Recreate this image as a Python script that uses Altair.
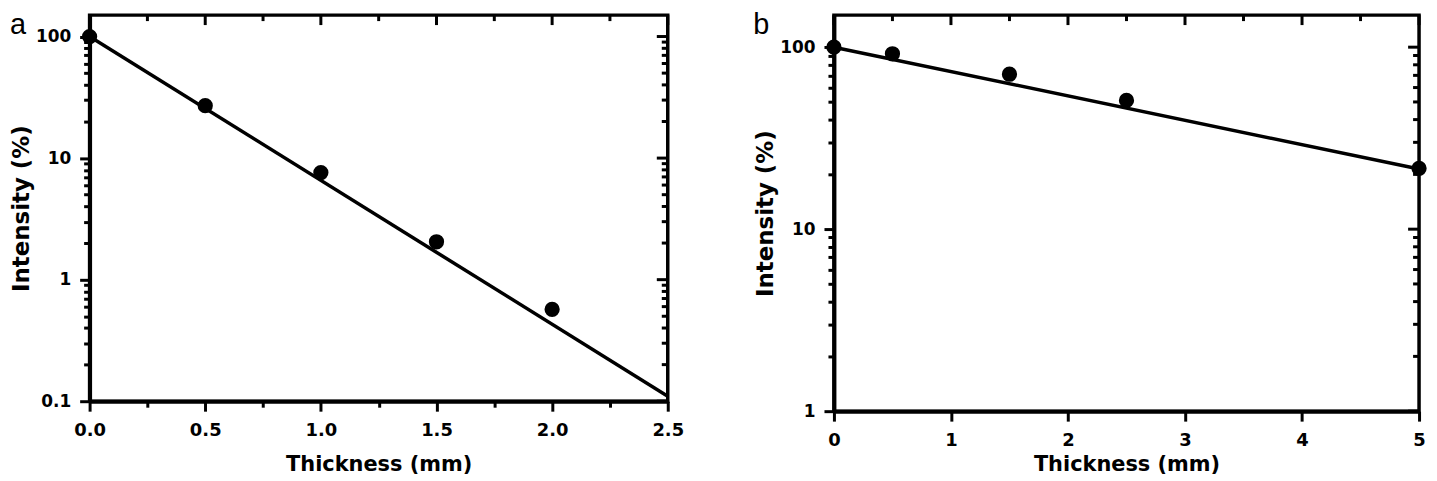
import altair as alt
import pandas as pd

# ---- data ----
a_x = [0.0, 0.5, 1.0, 1.5, 2.0]
a_y = [100, 27, 7.6, 2.05, 0.57]
a_fit_x = [0.0, 2.5]
a_fit_y = [100, 0.11]

b_x = [0.0, 0.5, 1.5, 2.5, 5.0]
b_y = [100, 92, 71, 51, 21.6]
b_fit_x = [0.0, 5.0]
b_fit_y = [100, 21.4]

a_x_major = [0.0, 0.5, 1.0, 1.5, 2.0, 2.5]
a_x_minor = [0.25, 0.75, 1.25, 1.75, 2.25]
a_y_major = [0.1, 1, 10, 100]
a_y_minor = [0.2, 0.3, 0.4, 0.5, 0.6, 0.7, 0.8, 0.9,
             2, 3, 4, 5, 6, 7, 8, 9,
             20, 30, 40, 50, 60, 70, 80, 90]

b_x_major = [0, 1, 2, 3, 4, 5]
b_x_minor = [0.5, 1.5, 2.5, 3.5, 4.5]
b_y_major = [1, 10, 100]
b_y_minor = [2, 3, 4, 5, 6, 7, 8, 9,
             20, 30, 40, 50, 60, 70, 80, 90]

x_title = "Thickness (mm)"
y_title = "Intensity (%)"

FONT = "DejaVu Sans"
LFONT = "Liberation Sans"


def is_major(values):
    return " || ".join(f"datum.value == {v}" for v in values)


def panel(label, px, py, fx, fy, xmaj, xmin, ymaj, ymin, xdom, ydom, xfmt,
          W, H, xtitlepad, lab_dx):
    xt = is_major(xmaj)
    yt = is_major(ymaj)
    X = alt.X("x:Q",
              scale=alt.Scale(domain=xdom, nice=False, zero=False),
              axis=alt.Axis(values=sorted(xmaj + xmin), format=xfmt,
                            labelExpr=f"({xt}) ? datum.label : ''",
                            tickSize={"condition": {"test": xt, "value": 10}, "value": 6},
                            labelPadding=10, titlePadding=xtitlepad,
                            labelFontSize=18, titleFontSize=21,
                            title=x_title))
    Y = alt.Y("y:Q",
              scale=alt.Scale(type="log", domain=ydom, nice=False),
              axis=alt.Axis(values=sorted(ymaj + ymin), format="~g",
                            labelExpr=f"({yt}) ? datum.label : ''",
                            tickSize={"condition": {"test": yt, "value": 10}, "value": 6},
                            labelPadding=9, titlePadding=2,
                            labelFontSize=17, titleFontSize=23,
                            title=y_title))

    pts = pd.DataFrame({"x": px, "y": py})
    fit = pd.DataFrame({"x": fx, "y": fy})

    line = alt.Chart(fit).mark_line(color="black", strokeWidth=3.5).encode(x=X, y=Y)
    dots = alt.Chart(pts).mark_circle(color="black", opacity=1, size=235).encode(x=X, y=Y)

    top_major = alt.Chart(pd.DataFrame({"x": xmaj})).mark_rule(
        color="black", strokeWidth=3, strokeCap="butt").encode(
        x=X, y=alt.value(0), y2=alt.value(10))
    top_minor = alt.Chart(pd.DataFrame({"x": xmin})).mark_rule(
        color="black", strokeWidth=3, strokeCap="butt").encode(
        x=X, y=alt.value(0), y2=alt.value(6))
    right_major = alt.Chart(pd.DataFrame({"y": ymaj})).mark_rule(
        color="black", strokeWidth=3, strokeCap="butt").encode(
        y=Y, x=alt.value(W - 11), x2=alt.value(W))
    right_minor = alt.Chart(pd.DataFrame({"y": ymin})).mark_rule(
        color="black", strokeWidth=3, strokeCap="butt").encode(
        y=Y, x=alt.value(W - 6), x2=alt.value(W))

    txt = alt.Chart(pd.DataFrame({"t": [label]})).mark_text(
        font=LFONT, fontSize=29, fontWeight="normal", align="left",
        baseline="alphabetic", color="black").encode(
        text="t:N", x=alt.value(lab_dx), y=alt.value(19))

    return alt.layer(top_major, top_minor, right_major, right_minor,
                     line, dots, txt).properties(width=W, height=H)


pa = panel("a", a_x, a_y, a_fit_x, a_fit_y, a_x_major, a_x_minor,
           a_y_major, a_y_minor, [0, 2.5], [0.1, 150], ".1f",
           581, 388, 15, -80)
pb = panel("b", b_x, b_y, b_fit_x, b_fit_y, b_x_major, b_x_minor,
           b_y_major, b_y_minor, [0, 5], [1, 150], "d",
           588, 398, 5, -81)

chart = alt.hconcat(pa, pb, spacing=66).properties(padding=0).configure_view(
    stroke="black", strokeWidth=3.5
).configure_axis(
    domainColor="black", domainWidth=4, tickColor="black", tickWidth=3,
    labelFont=FONT, labelFontWeight="bold", labelColor="black",
    titleFont=FONT, titleFontWeight="bold", titleColor="black",
    grid=False, labelFlush=False, labelOverlap=False
)

chart.save("out.html", embed_options={"renderer": "svg", "actions": False})
